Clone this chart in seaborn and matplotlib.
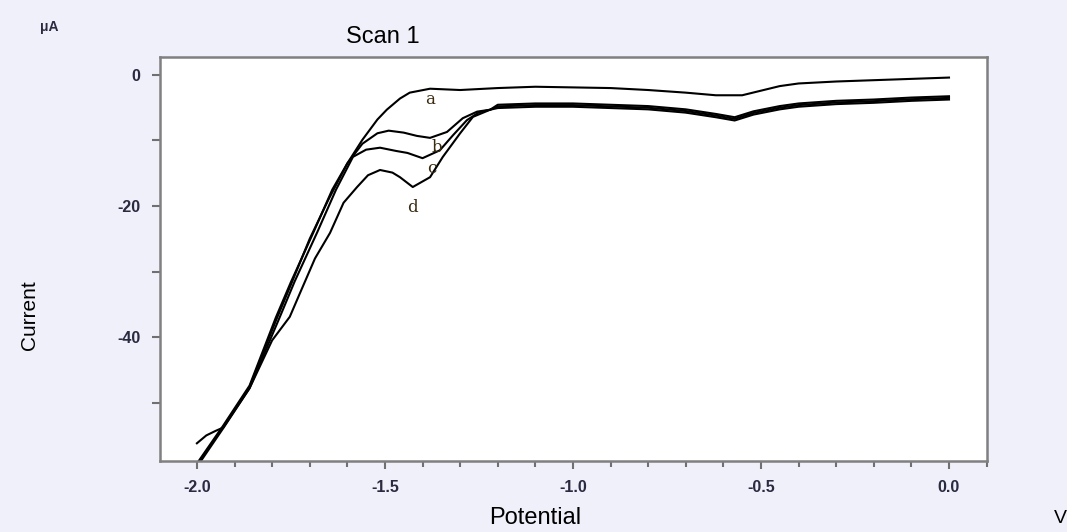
import numpy as np
import pandas as pd
import matplotlib
matplotlib.use('Agg')
import matplotlib.pyplot as plt
import seaborn as sns
from matplotlib.ticker import MultipleLocator, FormatStrFormatter

# scan curves (potential in V, current in uA)
a_x = [-2.0, -1.93, -1.86, -1.79, -1.75, -1.70, -1.65, -1.60, -1.56, -1.52, -1.495, -1.46, -1.434,
       -1.38, -1.3, -1.2, -1.1, -1.0, -0.9, -0.8, -0.7, -0.62, -0.55, -0.5, -0.45, -0.4, -0.3, -0.2, -0.1, 0.0]
a_y = [-59.5, -53.7, -47.6, -37.5, -32.0, -25.0, -19.0, -13.5, -9.9, -6.8, -5.3, -3.6, -2.7,
       -2.1, -2.3, -2.0, -1.8, -1.9, -2.0, -2.3, -2.7, -3.1, -3.1, -2.4, -1.7, -1.3, -1.0, -0.8, -0.6, -0.4]

b_x = [-2.0, -1.93, -1.86, -1.79, -1.75, -1.69, -1.64, -1.60, -1.56, -1.52, -1.49, -1.45, -1.415,
       -1.38, -1.335, -1.293, -1.255, -1.22]
b_y = [-59.3, -53.5, -47.4, -37.0, -31.6, -24.0, -17.5, -13.5, -10.5, -8.9, -8.5, -8.8, -9.3,
       -9.6, -8.7, -6.6, -5.6, -5.3]

c_x = [-2.0, -1.975, -1.95, -1.93, -1.86, -1.78, -1.74, -1.68, -1.63, -1.585, -1.55, -1.513, -1.47,
       -1.44, -1.40, -1.354, -1.319, -1.282, -1.25, -1.22]
c_y = [-56.2, -55.0, -54.3, -53.8, -47.8, -37.0, -31.5, -24.0, -17.5, -12.5, -11.4, -11.1, -11.6,
       -11.9, -12.7, -11.5, -9.2, -6.9, -5.7, -5.3]

d_x = [-2.0, -1.93, -1.86, -1.80, -1.753, -1.726, -1.686, -1.646, -1.61, -1.574, -1.545, -1.513, -1.48,
       -1.46, -1.426, -1.38, -1.346, -1.30, -1.266, -1.22]
d_y = [-59.8, -53.9, -47.8, -40.5, -36.9, -33.3, -28.0, -24.1, -19.5, -17.1, -15.3, -14.5, -14.9,
       -15.6, -17.1, -15.6, -12.5, -8.9, -6.4, -5.3]

# common tail of b, c, d
tail_x = [-1.2, -1.1, -1.0, -0.9, -0.8, -0.7, -0.62, -0.57, -0.52, -0.45, -0.4, -0.3, -0.2, -0.1, 0.0]
tail_y = [-4.8, -4.6, -4.6, -4.8, -5.0, -5.5, -6.2, -6.7, -5.8, -5.0, -4.6, -4.2, -4.0, -3.7, -3.5]
tail_offset = {'b': 0.25, 'c': 0.0, 'd': -0.25}

labels = ['a', 'b', 'c', 'd']
label_pos = {'a': (-1.38, -3.7), 'b': (-1.362, -11.0), 'c': (-1.375, -14.2), 'd': (-1.426, -20.2)}

frames = [pd.DataFrame({'V': a_x, 'I': a_y, 'scan': 'a'})]
for name, xs, ys in [('b', b_x, b_y), ('c', c_x, c_y), ('d', d_x, d_y)]:
    xx = xs + tail_x
    yy = ys + [v + tail_offset[name] for v in tail_y]
    frames.append(pd.DataFrame({'V': xx, 'I': yy, 'scan': name}))
df = pd.concat(frames, ignore_index=True)

bg = '#f0f0fa'
fig = plt.figure(figsize=(10.67, 5.32), dpi=100, facecolor=bg)
ax = fig.add_axes([0.150, 0.1335, 0.775, 0.7595])
ax.set_facecolor('white')

for name in labels:
    sub = df[df.scan == name]
    sns.lineplot(data=sub, x='V', y='I', sort=False, estimator=None, color='black',
                 lw=1.5, ax=ax, legend=False)

for name in labels:
    px, py = label_pos[name]
    ax.text(px, py, name, family='DejaVu Serif', fontsize=12, color='#3a2a10',
            ha='center', va='center')

ax.set_xlim(-2.098, 0.101)
ax.set_ylim(-58.9, 2.75)
ax.xaxis.set_major_locator(MultipleLocator(0.5))
ax.xaxis.set_minor_locator(MultipleLocator(0.1))
ax.yaxis.set_major_locator(MultipleLocator(20))
ax.yaxis.set_minor_locator(MultipleLocator(10))
ax.xaxis.set_major_formatter(FormatStrFormatter('%.1f'))
ax.yaxis.set_major_formatter(FormatStrFormatter('%d'))
for s in ax.spines.values():
    s.set_color('#808080')
    s.set_linewidth(1.8)
ax.tick_params(which='major', direction='out', length=6, width=1.5, color='#707070',
               labelsize=11.5, labelcolor='#2a2a40', pad=8)
ax.tick_params(which='minor', direction='out', length=4, width=1.5, color='#707070')
ax.tick_params(axis='y', which='minor', length=6)
for t in ax.get_xticklabels() + ax.get_yticklabels():
    t.set_family('Liberation Sans')
    t.set_fontweight('bold')
ax.set_xlabel('')
ax.set_ylabel('')

fig.text(0.046, 0.95, 'μA', family='Liberation Sans', fontsize=10, fontweight='bold',
         color='#2a2a40', ha='center', va='center')
fig.text(0.359, 0.930, 'Scan 1', family='Liberation Sans', fontsize=17, color='black',
         ha='center', va='center')
fig.text(0.028, 0.408, 'Current', family='Liberation Sans', fontsize=15, color='black',
         rotation=90, ha='center', va='center')
fig.text(0.502, 0.026, 'Potential', family='Liberation Sans', fontsize=17, color='black',
         ha='center', va='center')
fig.text(0.988, 0.026, 'V', family='Liberation Sans', fontsize=14, color='black',
         ha='left', va='center')

fig.savefig('out.png', dpi=100, facecolor=bg)
